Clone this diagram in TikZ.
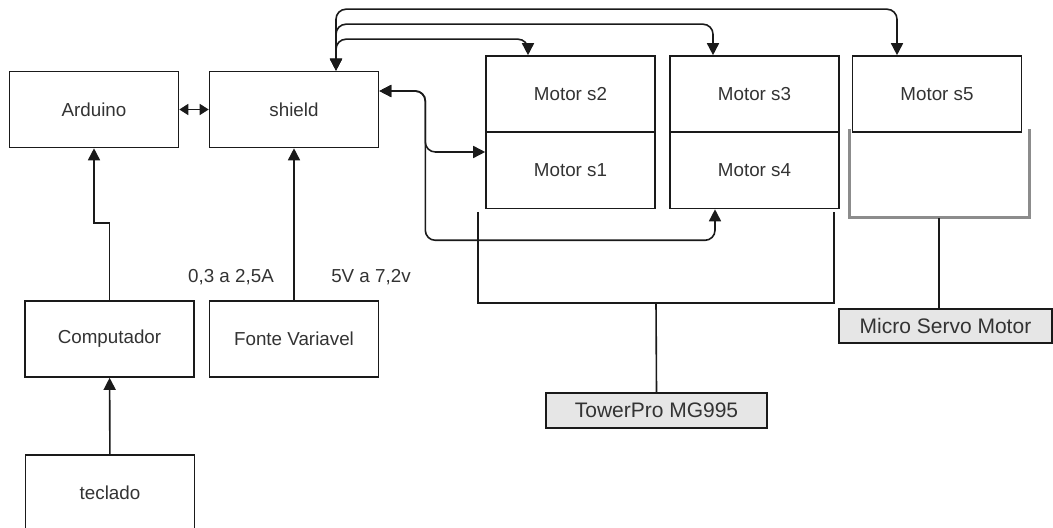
\documentclass[tikz,border=0pt]{standalone}
\usepackage{fontspec}
\setmainfont{Liberation Sans}
\usetikzlibrary{arrows.meta}

\definecolor{linecol}{HTML}{1A1A1A}
\definecolor{txtcol}{HTML}{333333}
\definecolor{greyfill}{HTML}{E6E6E6}
\definecolor{bracketgrey}{HTML}{8C8C8C}

\begin{document}
\begin{tikzpicture}[x=0.5pt, y=-0.5pt, line width=0.8pt, draw=linecol,
    >={Triangle[length=6pt, width=6pt]},
    every node/.style={font=\fontsize{9.4}{11}\selectfont, text=txtcol},
    blockbox/.style={draw=linecol, inner sep=0pt, minimum width=84.5pt, minimum height=38pt},
    partbox/.style={draw=linecol, fill=greyfill, inner sep=0pt, minimum height=17.5pt,
      font=\fontsize{10.5}{12}\selectfont}]

  % --- 描画範囲 ---
  \useasboundingbox (0,0) rectangle (1053,528);

  % 1. 左側のブロック
  \node[blockbox] (ard)    at (94,109.5)  {Arduino};
  \node[blockbox] (shield) at (294,109.5) {shield};
  \node[blockbox] (comp)   at (109.5,339) {Computador};
  \node[blockbox] (fonte)  at (294,339)   {Fonte Variavel};
  \node[blockbox] (tec)    at (110,493)   {teclado};

  % 電源の表示
  \node (amp)  at (231,277) {0,3 a 2,5A};
  \node (volt) at (371,277) {5V a 7,2v};

  % 2. モーター
  \node[blockbox] (ms2) at (570.5,94)  {Motor s2};
  \node[blockbox] (ms1) at (570.5,170.5) {Motor s1};
  \node[blockbox] (ms3) at (754.5,94)  {Motor s3};
  \node[blockbox] (ms4) at (754.5,170.5) {Motor s4};
  \node[blockbox] (ms5) at (937,94)    {Motor s5};

  % 3. サーボの種類
  \node[partbox, minimum width=110.5pt] (tower) at (656.5,410.5) {TowerPro MG995};
  \node[partbox, minimum width=106.5pt, minimum height=17pt] (micro) at (945.5,326) {Micro Servo Motor};

  % 括弧（グループ）
  \draw (478,212) -- (478,303) -- (834,303) -- (834,212);
  \draw (656,303) -- (tower.north);
  \draw[bracketgrey, line width=1.5pt] (849,129) -- (849,218) -- (1029,218) -- (1029,129);
  \draw (939,218) -- ([xshift=-3.25pt]micro.north);

  % 4. 接続線
  \draw[<->, >={Triangle[length=4.5pt, width=5.5pt]}] (ard) -- (shield);
  \draw[->] (fonte) -- (shield);
  \draw[->] (comp.north) -- ++(0,38.5pt) -| (ard.south);
  \draw[->] (tec) -- (comp);

  % shield 上側から s2, s3, s5 へ
  \draw[<->, rounded corners=5pt] ([xshift=-21.25pt]ms2.north) -- ++(0,8pt) -| ([xshift=21pt]shield.north);
  \draw[<->, rounded corners=5pt] ([xshift=-20.75pt]ms3.north) -- ++(0,15.5pt) -| ([xshift=21pt]shield.north);
  \draw[<->, rounded corners=5pt] ([xshift=-20pt]ms5.north) -- ++(0,23pt) -| ([xshift=21pt]shield.north);

  % shield 右側から s1, s4 へ
  \draw[<->, rounded corners=5pt] ([yshift=9.25pt]shield.east) -- ++(23pt,0) |- ([yshift=9.25pt]ms1.west);
  \draw[<->, rounded corners=5pt] ([yshift=9.25pt]shield.east) -- ++(23pt,0)
    |- ([xshift=-19.75pt, yshift=-15.5pt]ms4.south) -- ([xshift=-19.75pt]ms4.south);

\end{tikzpicture}
\end{document}
